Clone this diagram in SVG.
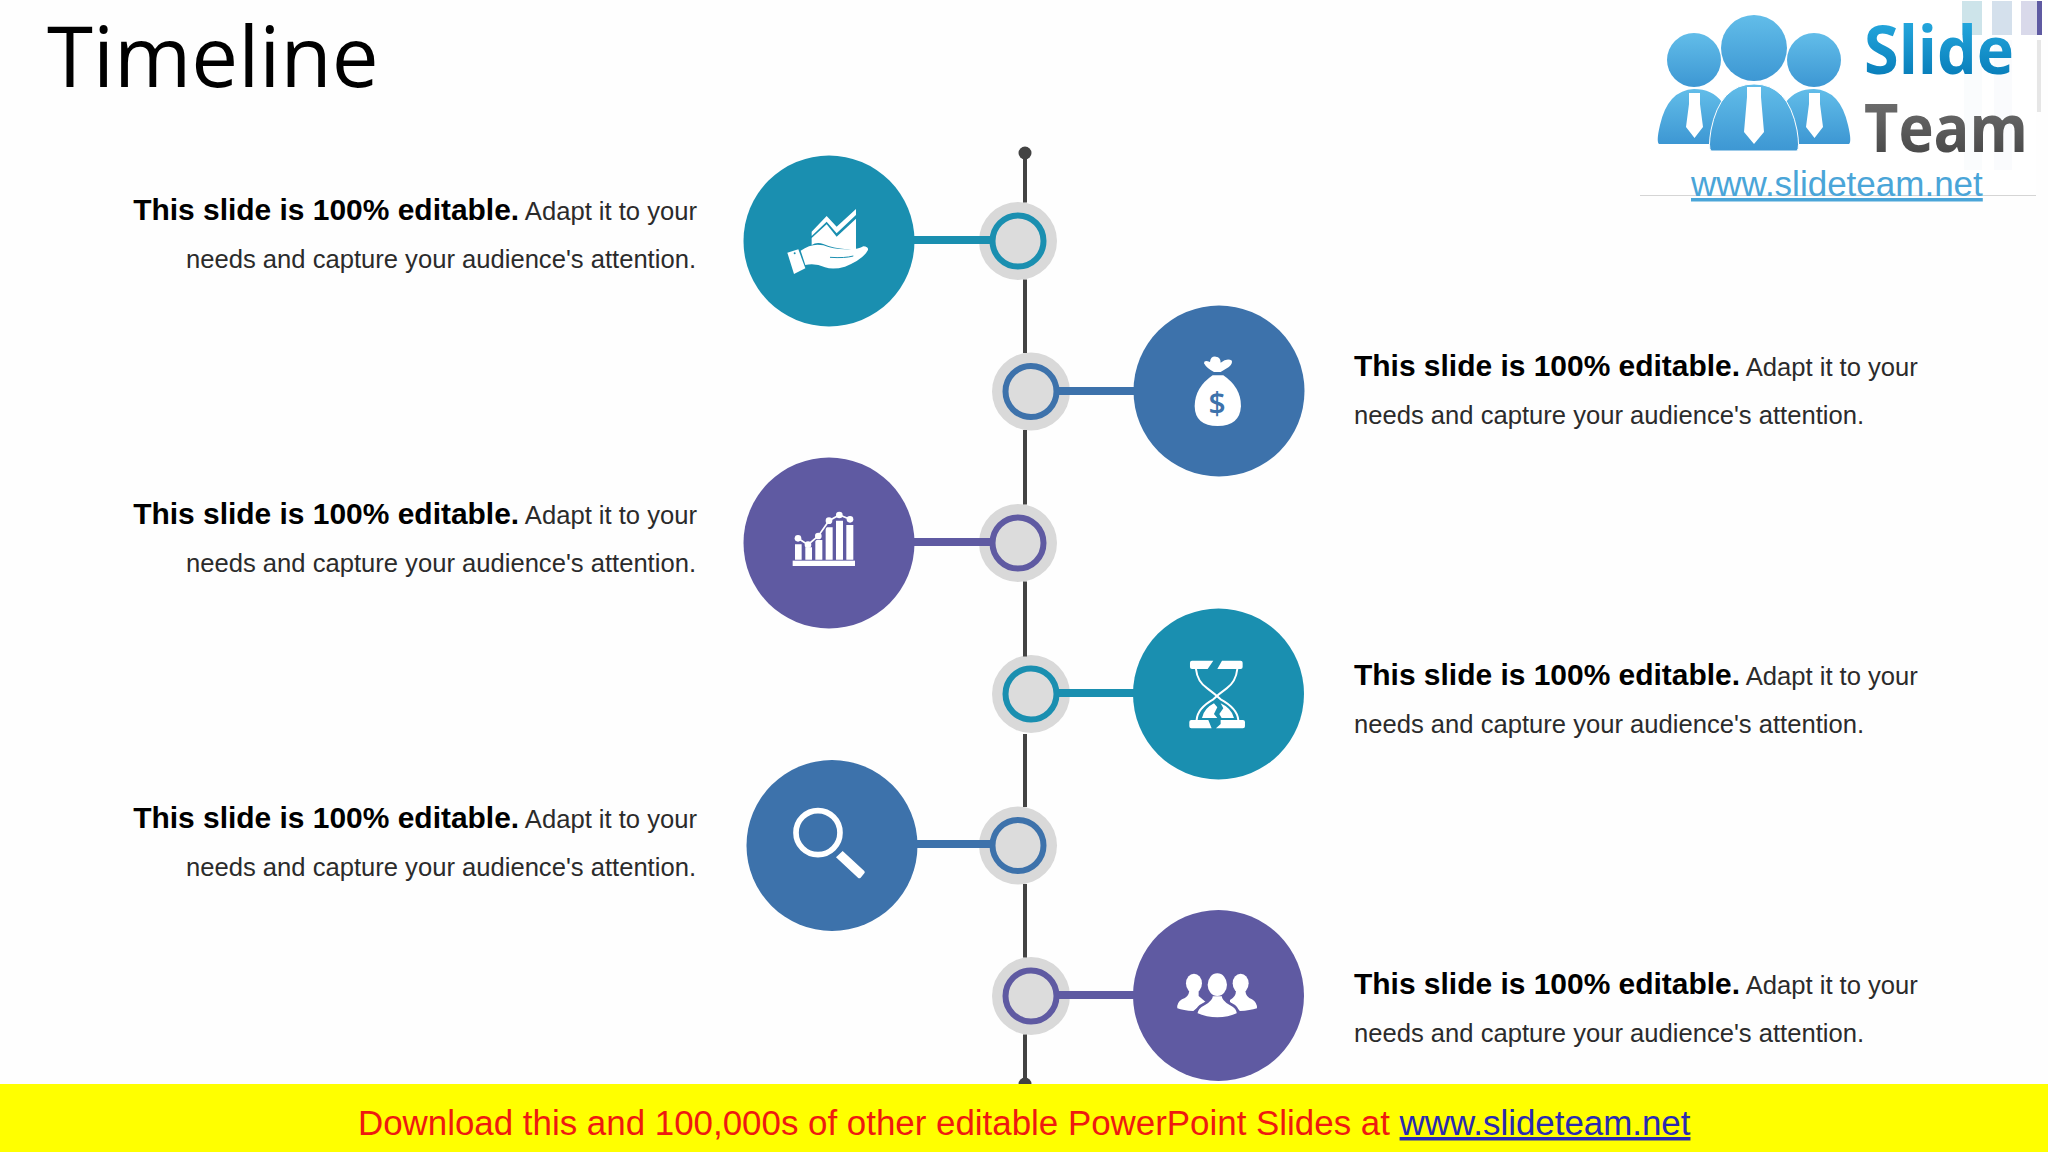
<svg xmlns="http://www.w3.org/2000/svg" width="2048" height="1152" viewBox="0 0 2048 1152">
<style>
.sans{font-family:"Liberation Sans",Arial,sans-serif}
.b{font-weight:700;font-size:29.950px;fill:#000}
.r{font-size:25.600px;fill:#2b2b2b}
.l{text-anchor:end}
.halo{fill:#d9d9d9}
.big{stroke:none}
.ring{fill:#dcdcdc;stroke-width:6}
.w{fill:#fff}
.wl{fill:none;stroke:#fff}
.branch{stroke-width:8;fill:none}
.spine{stroke:#434343;stroke-width:4}
</style>
<defs>
<linearGradient id="gs" x1="0" y1="0" x2="0" y2="1"><stop offset="0" stop-color="#2db4e8"/><stop offset="1" stop-color="#0072b0"/></linearGradient>
<linearGradient id="gt" x1="0" y1="0" x2="0" y2="1"><stop offset="0" stop-color="#7a7a7a"/><stop offset="1" stop-color="#3f3f3f"/></linearGradient>
<linearGradient id="gp" x1="0" y1="0" x2="0" y2="1"><stop offset="0" stop-color="#62bde9"/><stop offset="1" stop-color="#3d97d3"/></linearGradient>
</defs>
<rect width="2048" height="1152" fill="#fefefe"/>
<text id="title" x="47" y="87" font-family="'Open Sans',sans-serif" font-size="83.500" fill="#000">Timeline</text>

<g id="logo">
<rect x="1640" y="0" width="396" height="195" fill="#fff"/>
<rect x="1964" y="40" width="18" height="130" fill="#fafcfd"/>
<rect x="1994" y="40" width="18" height="130" fill="#fafbfd"/>
<rect x="1962" y="1" width="20" height="34" fill="#cde4ea"/>
<rect x="1992" y="1" width="20" height="34" fill="#d4e0ec"/>
<rect x="2021" y="1" width="20" height="34" fill="#d9d9ea"/>
<rect x="2037" y="1" width="5" height="34" fill="#5f5aa2"/>
<rect x="2037" y="40" width="4" height="72" fill="#e6e6e6"/>
<path d="M1640 195.500H2036" stroke="#d5d5d5" stroke-width="1"/>
<circle cx="1694" cy="60" r="27" fill="url(#gp)"/>
<circle cx="1814" cy="60" r="27" fill="url(#gp)"/>
<path d="M1659 144Q1656 142 1660 125Q1668 90 1694 89Q1712 89 1722 102L1722 144Z" fill="url(#gp)"/>
<path d="M1849 144Q1852 142 1848 125Q1840 90 1814 89Q1796 89 1786 102L1786 144Z" fill="url(#gp)"/>
<circle cx="1754" cy="48" r="33" fill="url(#gp)"/>
<path d="M1711 151Q1708 148 1711 130Q1720 84 1754 84Q1788 84 1797 130Q1800 148 1797 151Z" fill="url(#gp)" stroke="#fff" stroke-width="1"/>
<path d="M1747 87H1761V97L1764 132L1754 144L1744 132L1747 97Z" fill="#fff"/>
<path d="M1689 93H1700V104L1703 127L1694.500 138L1686 127L1689 104Z" fill="#fff"/>
<path d="M1809 93H1820V104L1823 127L1814.500 138L1806 127L1809 104Z" fill="#fff"/>
<text x="1864" y="74" font-family="'Open Sans',sans-serif" font-weight="700" font-size="66" fill="url(#gs)" textLength="150" lengthAdjust="spacingAndGlyphs">Slide</text>
<text x="1864" y="152" font-family="'Open Sans',sans-serif" font-weight="700" font-size="66" fill="url(#gt)" textLength="164" lengthAdjust="spacingAndGlyphs">Team</text>
<text x="1691" y="196" class="sans" font-size="35" fill="#4aa5d8" text-decoration="underline">www.slideteam.net</text>
</g>

<g id="node1">
<circle class="big" cx="829" cy="241" r="85.500" fill="#1a8fb0"/>
<circle class="halo" cx="1018" cy="241" r="39"/>
<circle class="ring" cx="1018" cy="241" r="25.500" stroke="#1a8fb0"/>
<g transform="translate(730 130) scale(.3333)">
<path class="w" d="M245 305L290 258L320 290L378 237V255L320 310L290 275L245 318Z"/>
<path class="w" d="M245 324L290 283L320 320L378 266V362L350 358Q310 355 280 342Q260 335 245 345Z"/>
<path class="w" d="M172 368L205 358L226 415L192 432Z"/>
<path class="w" d="M212 362Q245 338 280 346Q310 358 345 358Q385 360 400 349Q416 350 414 360Q400 388 345 410Q310 420 285 412Q255 398 226 405Z"/>
<path class="wl" stroke-width="3" d="M300 382Q345 385 370 378" style="stroke:#1a8fb0"/>
<circle cx="194" cy="370" r="3" fill="#1a8fb0"/>
</g>
<text class="sans l" x="697" y="220"><tspan class="b">This slide is 100% editable.</tspan><tspan class="r"> Adapt it to your</tspan></text>
<text class="sans l r" x="696" y="268">needs and capture your audience's attention.</text>
</g>

<g id="node2">
<circle class="big" cx="1219" cy="391" r="85.500" fill="#3d72ab"/>
<circle class="halo" cx="1031" cy="391.500" r="39"/>
<circle class="ring" cx="1031" cy="391.500" r="25.500" stroke="#3d72ab"/>
<g transform="translate(980 300) scale(.3333)">
<path class="w" d="M672 190Q672 178 690 186Q692 168 708 170Q722 172 722 188Q742 172 756 182Q758 196 738 206L722 216H702Q680 205 672 190Z"/>
<path class="w" d="M698 226H730Q783 262 783 318Q780 378 713 378Q645 378 644 318Q645 262 698 226Z"/>
<text x="711" y="342" text-anchor="middle" font-family="'Open Sans',sans-serif" font-weight="600" font-size="90" fill="#3d72ab">$</text>
</g>
<text class="sans" x="1354" y="376"><tspan class="b">This slide is 100% editable.</tspan><tspan class="r"> Adapt it to your</tspan></text>
<text class="sans r" x="1354" y="424">needs and capture your audience's attention.</text>
</g>

<g id="node3">
<circle class="big" cx="829" cy="543" r="85.500" fill="#5f5aa2"/>
<circle class="halo" cx="1018" cy="543" r="39"/>
<circle class="ring" cx="1018" cy="543" r="25.500" stroke="#5f5aa2"/>
<g transform="translate(730 450) scale(.3333)">
<rect class="w" x="188" y="332" width="187" height="16"/>
<path class="w" d="M195 283H215V329H195ZM226 292H246V329H226ZM256 270H277V329H256ZM287 232H308V329H287ZM318 212H339V329H318ZM349 225H370V329H349Z"/>
<path class="wl" stroke-width="12" style="stroke:#5f5aa2" d="M204 265L234 284L265 258L297 212L328 195L360 208"/>
<path class="wl" stroke-width="5" d="M204 265L234 284L265 258L297 212L328 195L360 208"/>
<circle class="w" cx="204" cy="265" r="10"/><circle class="w" cx="234" cy="284" r="10"/><circle class="w" cx="265" cy="258" r="10"/><circle class="w" cx="297" cy="212" r="10"/><circle class="w" cx="328" cy="195" r="10"/><circle class="w" cx="360" cy="208" r="10"/>
</g>
<text class="sans l" x="697" y="524"><tspan class="b">This slide is 100% editable.</tspan><tspan class="r"> Adapt it to your</tspan></text>
<text class="sans l r" x="696" y="572">needs and capture your audience's attention.</text>
</g>

<g id="node4">
<circle class="big" cx="1218.500" cy="694" r="85.500" fill="#1a8fb0"/>
<circle class="halo" cx="1031" cy="694" r="39"/>
<circle class="ring" cx="1031" cy="694" r="25.500" stroke="#1a8fb0"/>
<g transform="translate(980 600) scale(.3333)">
<path class="w" d="M636 182H700L683 207H636Q630 207 630 201V188Q630 182 636 182ZM726 182H782Q788 182 788 188V201Q788 207 782 207H712Z"/>
<path class="w" d="M634 360H685L695 385H634Q628 385 628 379V366Q628 360 634 360ZM722 360H789Q795 360 795 366V379Q795 385 789 385H708L722 372Z"/>
<path class="wl" stroke-width="6" d="M648 207Q652 245 682 265Q705 282 722 298Q772 325 775 360"/>
<path class="wl" stroke-width="6" d="M772 207Q768 245 740 265Q716 282 700 298Q652 325 650 360"/>
<path class="w" d="M666 354Q672 325 702 310L712 322L702 342L712 354Z"/>
<path class="w" d="M725 354L718 342L730 325L722 310Q755 325 762 354Z"/>
</g>
<text class="sans" x="1354" y="685"><tspan class="b">This slide is 100% editable.</tspan><tspan class="r"> Adapt it to your</tspan></text>
<text class="sans r" x="1354" y="733">needs and capture your audience's attention.</text>
</g>

<g id="node5">
<circle class="big" cx="832" cy="845.500" r="85.500" fill="#3d72ab"/>
<circle class="halo" cx="1018" cy="845.500" r="39"/>
<circle class="ring" cx="1018" cy="845.500" r="25.500" stroke="#3d72ab"/>
<g transform="translate(730 750) scale(.3333)">
<circle class="wl" cx="264" cy="248" r="66" stroke-width="17"/>
<path class="w" d="M318 322L338 303L403 363Q406 367 403 370L392 383Q388 387 384 383Z"/>
</g>
<text class="sans l" x="697" y="828"><tspan class="b">This slide is 100% editable.</tspan><tspan class="r"> Adapt it to your</tspan></text>
<text class="sans l r" x="696" y="876">needs and capture your audience's attention.</text>
</g>

<g id="node6">
<circle class="big" cx="1218.500" cy="995.500" r="85.500" fill="#5f5aa2"/>
<circle class="halo" cx="1031" cy="996" r="39"/>
<circle class="ring" cx="1031" cy="996" r="25.500" stroke="#5f5aa2"/>
<g transform="translate(980 900) scale(.3333)">
<ellipse class="w" cx="642" cy="250" rx="24" ry="29"/>
<path class="w" d="M628 272H656V288L680 308V325H650L640 333Q610 332 592 325Q590 308 606 298Q626 292 628 272Z"/>
<ellipse class="w" cx="782" cy="250" rx="24" ry="29"/>
<path class="w" d="M768 272H796Q798 292 816 298Q832 308 831 325Q810 332 780 333L770 325H750V300Q768 290 768 272Z"/>
<path class="w" stroke="#5f5aa2" stroke-width="8" d="M695 285H729Q729 300 752 312Q774 322 775 342Q745 356 712 356Q680 356 648 342Q650 322 672 312Q695 300 695 285Z"/>
<ellipse class="w" cx="712" cy="254" rx="29" ry="34"/>
</g>
<text class="sans" x="1354" y="994"><tspan class="b">This slide is 100% editable.</tspan><tspan class="r"> Adapt it to your</tspan></text>
<text class="sans r" x="1354" y="1042">needs and capture your audience's attention.</text>
</g>

<g id="connectors">
<path class="spine" fill="none" d="M1025 153V202.600M1025 279.600V353M1025 430V504.600M1025 581.400V656.500M1025 734V807M1025 884V957.500M1025 1034.500V1084"/>
<circle cx="1025" cy="153" r="6.500" fill="#434343"/>
<circle cx="1025" cy="1084" r="6.500" fill="#434343"/>
<line class="branch" x1="912" y1="240" x2="991" y2="240" stroke="#1a8fb0"/>
<line class="branch" x1="1058" y1="391" x2="1136" y2="391" stroke="#3d72ab"/>
<line class="branch" x1="912" y1="542" x2="991" y2="542" stroke="#5f5aa2"/>
<line class="branch" x1="1058" y1="693" x2="1135" y2="693" stroke="#1a8fb0"/>
<line class="branch" x1="915" y1="844" x2="991" y2="844" stroke="#3d72ab"/>
<line class="branch" x1="1058" y1="995" x2="1135" y2="995" stroke="#5f5aa2"/>
</g>

<g id="footer">
<rect x="0" y="1084" width="2048" height="68" fill="#ffff00"/>
<text class="sans" x="358" y="1135" font-size="34.900" fill="#ee1a10">Download this and 100,000s of other editable PowerPoint Slides at <tspan fill="#2a2ab0" text-decoration="underline">www.slideteam.net</tspan></text>
</g>
</svg>
